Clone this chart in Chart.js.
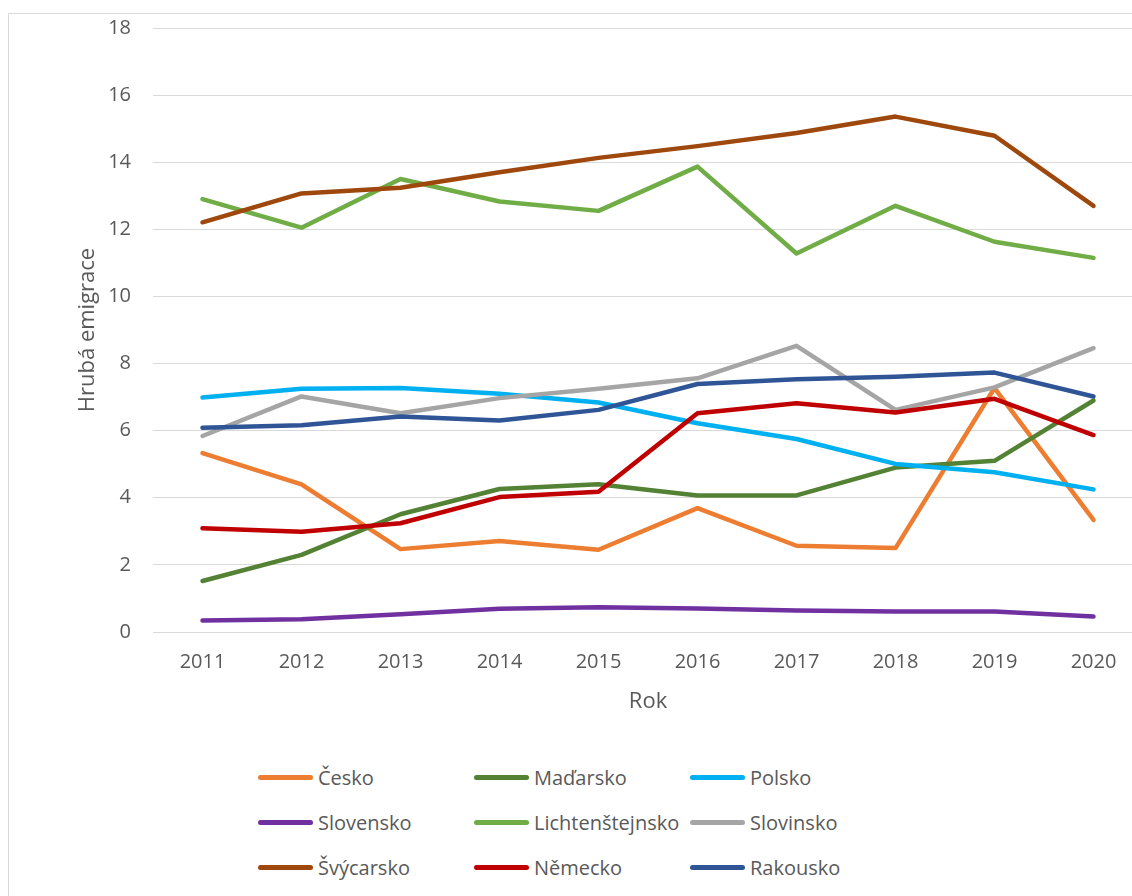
<!DOCTYPE html>
<html>
<head>
<meta charset="utf-8">
<script src="https://cdn.jsdelivr.net/npm/chart.js@4/dist/chart.umd.min.js"></script>
<style>
  body { margin: 0; background: #fff; overflow: hidden; }
  #wrap { position: relative; width: 1132px; height: 896px; overflow: hidden; }
  #frame { position: absolute; left: 8px; top: 13px; width: 1200px; height: 1000px; border: 1px solid #d9d9d9; }
  #graf { position: absolute; left: 0; top: -6px; }
  #legenda { position: absolute; left: 258px; top: 763px; display: grid; grid-template-columns: 216px 216px 215px; row-gap: 16px; font-family: "Open Sans", sans-serif; font-size: 20px; color: #595959; }
  .item { display: flex; align-items: center; height: 29px; white-space: nowrap; }
  .item span.cara { display: inline-block; width: 55px; height: 5px; border-radius: 3px; margin-right: 5px; }
</style>
</head>
<body>
<div id="wrap">
  <div id="frame"></div>
  <canvas id="graf" width="1143" height="736"></canvas>
  <div id="legenda"></div>
</div>
<script>
// roky a hodnoty
const roky = ["2011", "2012", "2013", "2014", "2015", "2016", "2017", "2018", "2019", "2020"];

const cesko = [5.33, 4.40, 2.47, 2.71, 2.45, 3.69, 2.57, 2.50, 7.27, 3.34];
const madarsko = [1.52, 2.30, 3.51, 4.26, 4.40, 4.07, 4.07, 4.90, 5.10, 6.90];
const polsko = [6.99, 7.25, 7.27, 7.10, 6.84, 6.22, 5.75, 5.01, 4.76, 4.25];
const slovensko = [0.34, 0.38, 0.53, 0.69, 0.74, 0.70, 0.64, 0.61, 0.61, 0.46];
const lichtenstejnsko = [12.90, 12.05, 13.50, 12.83, 12.55, 13.87, 11.28, 12.70, 11.63, 11.15];
const slovinsko = [5.84, 7.02, 6.52, 6.97, 7.25, 7.56, 8.53, 6.62, 7.29, 8.46];
const svycarsko = [12.21, 13.07, 13.24, 13.70, 14.13, 14.48, 14.87, 15.36, 14.79, 12.70];
const nemecko = [3.09, 2.99, 3.24, 4.02, 4.18, 6.52, 6.82, 6.54, 6.95, 5.87];
const rakousko = [6.09, 6.16, 6.42, 6.30, 6.62, 7.39, 7.53, 7.61, 7.73, 7.02];

const yTicks = [0, 2, 4, 6, 8, 10, 12, 14, 16, 18];

const serie = [
    ["Česko", cesko, "#ED7D31"],
    ["Maďarsko", madarsko, "#548235"],
    ["Polsko", polsko, "#00B0F0"],
    ["Slovensko", slovensko, "#7030A0"],
    ["Lichtenštejnsko", lichtenstejnsko, "#70AD47"],
    ["Slovinsko", slovinsko, "#A5A5A5"],
    ["Švýcarsko", svycarsko, "#9E480E"],
    ["Německo", nemecko, "#C00000"],
    ["Rakousko", rakousko, "#2F5597"]
];

const textColor = "#595959";
const font = "'Open Sans', sans-serif";

const datasets = serie.map(([label, data, color], i) => ({
    label,
    data,
    borderColor: color,
    backgroundColor: color,
    borderWidth: 4.5,
    pointRadius: 0,
    tension: 0,
    fill: false,
    borderCapStyle: "round",
    borderJoinStyle: "round",
    order: serie.length - i   // pozdější řada nahoře, jako v Excelu
}));

const chart = new Chart(document.getElementById("graf"), {
    type: "line",
    data: { labels: roky, datasets },
    options: {
        responsive: false,
        animation: false,
        layout: { autoPadding: false, padding: { top: 20, left: 0, right: 0, bottom: 0 } },
        plugins: {
            legend: { display: false },
            tooltip: { enabled: false }
        },
        scales: {
            x: {
                offset: true,
                grid: { display: false, drawTicks: false },
                border: { display: true, color: "#d9d9d9", width: 1 },
                ticks: { color: textColor, font: { family: font, size: 20 }, padding: 18, maxRotation: 0 },
                title: { display: true, text: "Rok", color: textColor, font: { family: font, size: 22 }, padding: { top: 0, bottom: 15 } },
                afterFit: scale => { scale.height = 98; }
            },
            y: {
                min: 0,
                max: 18,
                afterBuildTicks: scale => { scale.ticks = yTicks.map(v => ({ value: v })); },
                grid: { color: "#d9d9d9", lineWidth: 1, drawTicks: false },
                border: { display: false },
                ticks: { color: textColor, font: { family: font, size: 20 }, padding: 22 },
                title: { display: true, text: "Hrubá emigrace", color: textColor, font: { family: font, size: 22 }, padding: { top: 75, bottom: 0 } },
                afterFit: scale => { scale.width = 153; }
            }
        }
    }
});

// legenda do tří sloupců
const legenda = document.getElementById("legenda");
chart.data.datasets.forEach(ds => {
    legenda.innerHTML += `<div class="item"><span class="cara" style="background:${ds.borderColor}"></span>${ds.label}</div>`;
});
</script>
</body>
</html>
